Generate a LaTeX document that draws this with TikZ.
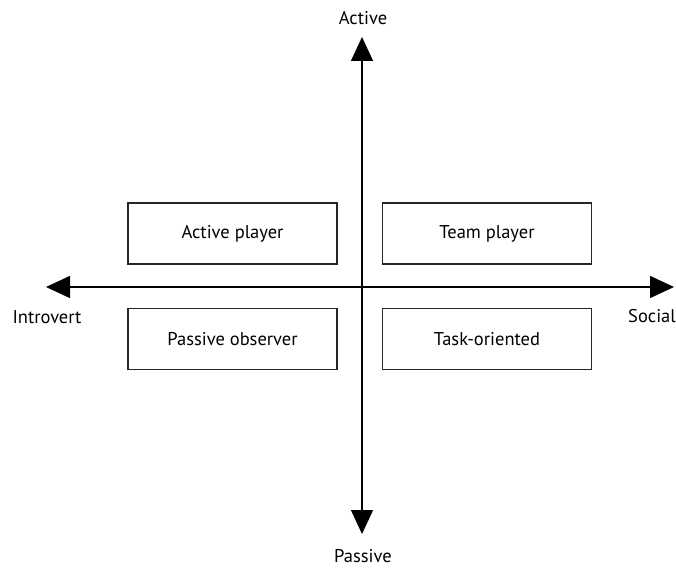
\documentclass[tikz,border=0pt]{standalone}
\usepackage{fontspec}
\setmainfont{PT Sans}
\usetikzlibrary{arrows.meta}

\begin{document}
\begin{tikzpicture}[x=1pt,y=-1pt,
	box/.style={draw=black!85,line width=1.2pt,minimum width=209pt,minimum height=61pt,inner sep=0pt,font=\fontsize{18.5}{22}\selectfont},
	lbl/.style={inner sep=0pt,font=\fontsize{18.5}{22}\selectfont},
	axis/.style={line width=1.4pt,{Triangle[width=22pt,length=24pt]}-{Triangle[width=22pt,length=24pt]}}]
			\useasboundingbox (0,0) rectangle (676,569);
			\coordinate (m) at (362,287);
			%tips of the axes
			\coordinate (t1) at (362,37);
			\coordinate (t2) at (362,534);
			\coordinate (t3) at (46,287);
			\coordinate (t4) at (674,287);
			\draw[axis] (t2) -- (t1);
			\draw[axis] (t3) -- (t4);
			%axis labels
			\node[lbl] (l1) at (363,18) {Active};
			\node[lbl] (l2) at (363,556) {Passive};
			\node[lbl] (l3) at (47,317) {Introvert};
			\node[lbl] (l4) at (652,316) {Social};
			%quadrants
			\node[box] (b1) at (232.5,233.5) {Active player};
			\node[box] (b2) at (487,233.5) {Team player};
			\node[box] (b3) at (232.5,339) {Passive observer};
			\node[box] (b4) at (487,339) {Task-oriented};
\end{tikzpicture}
\end{document}
